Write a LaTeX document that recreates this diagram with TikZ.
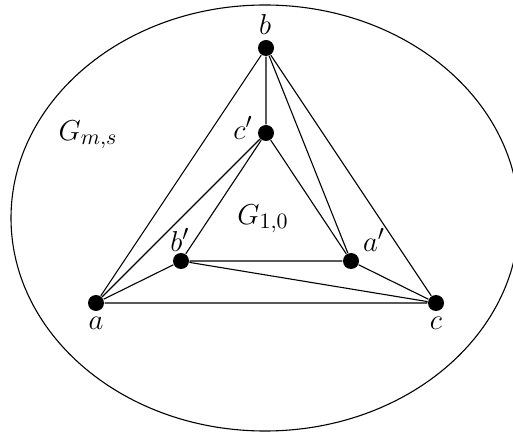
\documentclass[tikz,border=0pt]{standalone}
\begin{document}
\begin{tikzpicture}[x=0.5pt,y=-0.5pt,line width=0.55pt,
  vtx/.style={circle,fill=black,inner sep=0pt,minimum size=8pt},
  lab/.style={inner sep=0pt,font=\fontsize{15}{18}\selectfont}]
\useasboundingbox (0,0) rectangle (513,432);
\begin{scope}
\clip (0,0) rectangle (513,432);
\draw (265,218) ellipse [x radius=254, y radius=213];
\end{scope}
\node[vtx] (b) at (266,48) {};
\node[vtx] (cp) at (266,133) {};
\node[vtx] (bp) at (181,261) {};
\node[vtx] (ap) at (351,261) {};
\node[vtx] (a) at (96,303) {};
\node[vtx] (c) at (436,303) {};
\node[lab] at (265,25) {$b$};
\node[lab] at (243,128) {$c'$};
\node[lab] at (180,240) {$b'$};
\node[lab] at (374,240) {$a'$};
\node[lab] at (96,323) {$a$};
\node[lab] at (436,323) {$c$};
\node[lab] at (88,135) {$G_{m,s}$};
\node[lab] at (263,219) {$G_{1,0}$};
\draw (a) -- (b) (a) -- (cp) (a) -- (bp) (a) -- (c)
      (c) -- (b) (c) -- (ap) (c) -- (bp)
      (b) -- (cp) (b) -- (ap)
      (cp) -- (ap) (cp) -- (bp) (bp) -- (ap);
\end{tikzpicture}
\end{document}
